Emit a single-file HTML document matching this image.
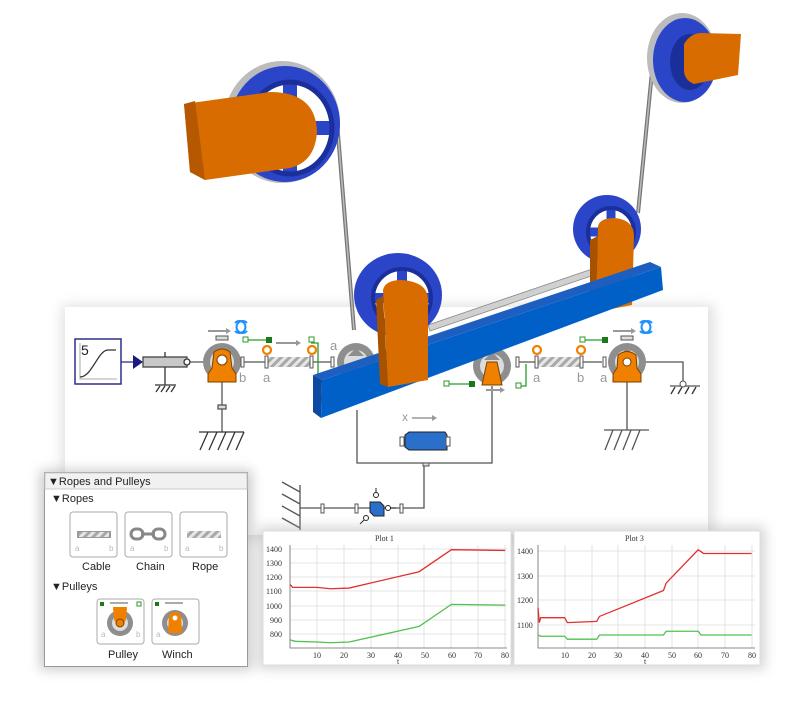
<!DOCTYPE html>
<html><head><meta charset="utf-8"><style>
html,body{margin:0;padding:0;background:#fff;}
svg{display:block;font-family:"Liberation Sans",sans-serif;}
</style></head><body>
<svg width="800" height="712" viewBox="0 0 800 712" xmlns="http://www.w3.org/2000/svg">
<defs>
<pattern id="hatch" width="6" height="6" patternUnits="userSpaceOnUse" patternTransform="rotate(45)"><rect width="6" height="6" fill="#e6e6e6"/><rect width="3" height="6" fill="#a8a8a8"/></pattern>
<filter id="sh" x="-10%" y="-10%" width="120%" height="130%"><feGaussianBlur stdDeviation="6"/></filter>
<g id="pul"><circle r="19" fill="#8e8e8e"/><circle r="12" fill="#dcdcdc"/><path d="M-8,-6 L0,-14 L8,-6 Z M-8,6 L0,14 L8,6Z" fill="#8e8e8e"/></g>
</defs>
<rect x="62" y="305" width="652" height="235" fill="#ccc" filter="url(#sh)" opacity="0.6"/>
<rect x="65" y="307" width="643" height="228" fill="#fff"/>

<g stroke="#555" stroke-width="1.3" fill="none">
<rect x="75" y="339" width="46" height="45" stroke="#2e2e8a" stroke-width="1.5" fill="#fff"/>
<path d="M80,343 V379 H117" stroke="#bbb"/>
<path d="M80,377 C92,377 98,350 108,350 H116" stroke="#333"/>
<path d="M121,362 H135" stroke="#2e2e8a"/>
<path d="M133,355 L143,362 L133,369 Z" fill="#1a1a80" stroke="none"/>
<rect x="143" y="357" width="44" height="10" fill="#c8c8c8" stroke="#444"/>
<circle cx="187" cy="362" r="3" fill="#fff" stroke="#333"/>
<path d="M165,352 V357 M165,367 V385 M155,385 H176" stroke="#333"/>
<path d="M156,392 L160,386 M161,392 L165,386 M166,392 L170,386 M171,392 L175,386" stroke="#333"/>
<path d="M190,362 H222"/>
<path d="M222,380 V432" />
<rect x="218" y="405" width="8" height="4" fill="#ddd"/>
<path d="M199,432 H244 M200,450 L208,432 M209,450 L217,432 M218,450 L226,432 M227,450 L235,432 M236,450 L244,432" stroke="#333"/>
<path d="M241,362 H267 M312,362 H332"/>
<path d="M311,343 H318 V400 H330 M353,400 H360" stroke="#2a9a2a"/>
<path d="M246,340 H268" stroke="#2a9a2a"/>
</g>
<text x="81" y="355" font-size="14" fill="#222">5</text>
<use href="#pul" x="222" y="362"/>
<path d="M212,368 L214,352 Q222,346 230,352 L232,368 L236,374 V382 H208 V374 Z" fill="#f08000" stroke="#7a4000"/>
<circle cx="222" cy="360" r="5" fill="#fff" stroke="#7a4000"/>
<rect x="216" y="336" width="12" height="4" fill="#ddd" stroke="#555"/>
<path d="M208,331 H226" stroke="#999" stroke-width="2"/><path d="M226,328 L231,331 L226,334Z" fill="#999"/>
<path d="M235,323 a6,6 0 1 1 0,8" fill="none" stroke="#1e90ff" stroke-width="2"/><path d="M247,331 a6,6 0 1 1 0,-8" fill="none" stroke="#1e90ff" stroke-width="2"/>
<rect x="241" y="357" width="3" height="10" fill="#fff" stroke="#555"/>
<rect x="243" y="337" width="5" height="5" fill="#fff" stroke="#2a9a2a"/><rect x="266" y="337" width="6" height="6" fill="#1a7a1a"/>
<path d="M276,343 H296" stroke="#999" stroke-width="2"/><path d="M296,340 L301,343 L296,346Z" fill="#999"/>
<rect x="309" y="337" width="5" height="5" fill="#fff" stroke="#2a9a2a"/>
<circle cx="267" cy="350" r="4" fill="none" stroke="#f08000" stroke-width="2.2"/>
<circle cx="312" cy="350" r="4" fill="none" stroke="#f08000" stroke-width="2.2"/>
<rect x="268" y="357" width="42" height="10" fill="url(#hatch)"/>
<rect x="265" y="356" width="3" height="12" fill="#fff" stroke="#555"/><rect x="310" y="356" width="3" height="12" fill="#fff" stroke="#555"/>
<g fill="#999" font-size="13"><text x="239" y="382">b</text><text x="263" y="382">a</text><text x="330" y="350">a</text></g>
<use href="#pul" x="356" y="362"/>
<rect x="331" y="357" width="3" height="10" fill="#fff" stroke="#555"/>

<g stroke="#555" stroke-width="1.3" fill="none">
<path d="M516,362 H537 M580,362 H602"/>
<path d="M627,362 H683 V385 M670,386 H700"/>
<path d="M671,394 L675,387 M678,394 L682,387 M685,394 L689,387 M692,394 L696,387" stroke="#333"/>
<path d="M627,380 V430 M604,430 H649 M605,450 L613,430 M614,450 L622,430 M623,450 L631,430 M632,450 L640,430" />
<path d="M492,386 V463 H357 V410 M424,463 V508 H403 M300,508 H403"/>
<path d="M300,485 V530 M282,482 L300,492 M282,494 L300,504 M282,506 L300,516 M282,518 L300,528"/>
<path d="M526,364 V386 H519 M446,384 H470" stroke="#2a9a2a"/>
<path d="M582,340 H602" stroke="#2a9a2a"/>
</g>
<rect x="423" y="463" width="6" height="3" fill="#ddd" stroke="#555"/>
<rect x="321" y="504" width="3" height="9" fill="#fff" stroke="#555"/><rect x="355" y="504" width="3" height="9" fill="#fff" stroke="#555"/><rect x="400" y="504" width="3" height="9" fill="#fff" stroke="#555"/>
<path d="M370,502 L380,502 L384,506 V516 H374 L370,512Z" fill="#2a6fc9" stroke="#222"/>
<circle cx="388" cy="508" r="2.5" fill="#fff" stroke="#222"/><circle cx="376" cy="495" r="2.5" fill="#fff" stroke="#222"/><circle cx="366" cy="518" r="2.5" fill="#fff" stroke="#222"/>
<path d="M376,488 V493 M390,508 H396 M364,520 L360,524" stroke="#222"/>
<text x="402" y="421" fill="#999" font-size="12">x</text><path d="M412,418 H432" stroke="#999" stroke-width="1.5"/><path d="M432,415 L437,418 L432,421Z" fill="#999"/>
<path d="M405,435 L409,432 H445 L447,435 V450 H409 L405,447Z" fill="#2a6fc9" stroke="#222"/>
<rect x="400" y="437" width="4" height="9" fill="#fff" stroke="#555"/><rect x="446" y="437" width="4" height="9" fill="#fff" stroke="#555"/>
<use href="#pul" x="627" y="362"/>
<path d="M617,368 L618,355 Q627,348 636,355 L637,368 L641,374 V382 H613 V374 Z" fill="#f08000" stroke="#7a4000"/>
<circle cx="627" cy="362" r="4" fill="#fff" stroke="#7a4000"/>
<rect x="621" y="336" width="12" height="4" fill="#ddd" stroke="#555"/>
<path d="M613,331 H631" stroke="#999" stroke-width="2"/><path d="M631,328 L636,331 L631,334Z" fill="#999"/>
<path d="M640,323 a6,6 0 1 1 0,8" fill="none" stroke="#1e90ff" stroke-width="2"/><path d="M652,331 a6,6 0 1 1 0,-8" fill="none" stroke="#1e90ff" stroke-width="2"/>
<circle cx="683" cy="384" r="3" fill="#fff" stroke="#555"/>
<rect x="603" y="357" width="3" height="10" fill="#fff" stroke="#555"/>
<rect x="580" y="337" width="5" height="5" fill="#fff" stroke="#2a9a2a"/><rect x="602" y="337" width="6" height="6" fill="#1a7a1a"/>
<rect x="516" y="357" width="3" height="10" fill="#fff" stroke="#555"/>
<circle cx="537" cy="350" r="4" fill="none" stroke="#f08000" stroke-width="2.2"/><circle cx="581" cy="350" r="4" fill="none" stroke="#f08000" stroke-width="2.2"/>
<rect x="538" y="357" width="42" height="10" fill="url(#hatch)"/>
<rect x="535" y="356" width="3" height="12" fill="#fff" stroke="#555"/><rect x="580" y="356" width="3" height="12" fill="#fff" stroke="#555"/>
<g fill="#999" font-size="13"><text x="533" y="382">a</text><text x="577" y="382">b</text><text x="600" y="382">a</text></g>
<use href="#pul" x="492" y="366"/>
<path d="M482,385 L487,362 H497 L502,385 Z" fill="#f08000" stroke="#7a4000"/>
<rect x="444" y="381" width="5" height="5" fill="#fff" stroke="#2a9a2a"/><rect x="469" y="381" width="6" height="6" fill="#1a7a1a"/>
<rect x="516" y="383" width="5" height="5" fill="#fff" stroke="#2a9a2a"/>
<path d="M486,390 H500" stroke="#999" stroke-width="2"/><path d="M500,387 L505,390 L500,393Z" fill="#999"/>

<!-- 3D -->
<path d="M337,122 L354,330" stroke="#777" stroke-width="4"/><path d="M337,122 L354,330" stroke="#bbb" stroke-width="1.5"/>
<path d="M652,72 L638,213" stroke="#777" stroke-width="4"/><path d="M652,72 L638,213" stroke="#bbb" stroke-width="1.5"/>
<ellipse cx="282" cy="122" rx="58" ry="61" fill="#bcbcbc"/>
<ellipse cx="285" cy="124" rx="55" ry="58" fill="#2b45c8"/>
<ellipse cx="290" cy="128" rx="42" ry="46" fill="#fff"/>
<path d="M250,128 L330,128 M290,82 L290,174" stroke="#2b45c8" stroke-width="14"/>
<ellipse cx="290" cy="128" rx="42" ry="46" fill="none" stroke="#1b2f9a" stroke-width="5"/>
<path d="M184,104 L270,92 Q316,92 317,132 Q315,162 290,168 L205,180 L190,172 Z" fill="#d96c00"/>
<path d="M184,104 L195,101 L205,180 L190,172Z" fill="#b55800"/>
<ellipse cx="682" cy="58" rx="35" ry="45" fill="#bcbcbc"/>
<ellipse cx="685" cy="60" rx="32" ry="42" fill="#2b45c8"/>
<ellipse cx="690" cy="62" rx="20" ry="28" fill="#1b2f9a"/>
<path d="M684,44 Q690,34 700,33 L741,34 L738,75 L694,84 Q684,80 684,70Z" fill="#d96c00"/>
<ellipse cx="607" cy="229" rx="34" ry="34" fill="#2b45c8"/>
<ellipse cx="611" cy="232" rx="23" ry="24" fill="#fff"/>
<path d="M588,232 L634,232 M611,208 L611,256" stroke="#2b45c8" stroke-width="9"/>
<ellipse cx="611" cy="232" rx="23" ry="24" fill="none" stroke="#1b2f9a" stroke-width="4"/>
<path d="M428,325 L595,268 L597,274 L430,331Z" fill="#d0d0d0" stroke="#888" stroke-width="0.8"/>
<path d="M598,226 Q600,218 615,218 Q634,220 634,236 L632,305 L596,312 Z" fill="#d96c00"/>
<path d="M590,240 L598,236 L596,312 L590,310Z" fill="#a85200"/>
<ellipse cx="398" cy="295" rx="44" ry="42" fill="#2b45c8"/>
<ellipse cx="402" cy="298" rx="29" ry="29" fill="#fff"/>
<path d="M372,298 L432,298 M402,268 L402,328" stroke="#2b45c8" stroke-width="10"/>
<ellipse cx="402" cy="298" rx="29" ry="29" fill="none" stroke="#1b2f9a" stroke-width="4"/>
<path d="M313,375 L650,262 L661,267 L322,380Z" fill="#1d5fc0"/>
<path d="M313,375 L322,380 L321,418 L313,412Z" fill="#0b4aa0"/>
<path d="M322,380 L661,267 L663,290 L321,418Z" fill="#0060c8"/>
<path d="M383,290 Q385,280 402,280 Q428,282 428,300 L428,380 L388,387 Z" fill="#d96c00"/>
<path d="M376,300 L383,296 L388,387 L380,384Z" fill="#a85200"/>

<!-- Library panel -->
<rect x="40" y="470" width="212" height="200" fill="#999" filter="url(#sh)" opacity="0.5"/>
<rect x="44.5" y="472.5" width="203" height="194" fill="#fff" stroke="#999"/>
<rect x="45" y="473" width="202" height="16" fill="#f1f1f1" stroke="#ccc"/>
<g font-size="11" fill="#222">
<text x="48" y="485">▼Ropes and Pulleys</text>
<text x="51" y="502">▼Ropes</text>
<text x="51" y="590">▼Pulleys</text>
<text x="82" y="570" font-size="11">Cable</text>
<text x="136" y="570">Chain</text>
<text x="192" y="570">Rope</text>
<text x="108" y="658">Pulley</text>
<text x="162" y="658">Winch</text>
</g>
<g fill="#fff" stroke="#aaa">
<rect x="70" y="512" width="47" height="45" rx="3"/><rect x="125" y="512" width="47" height="45" rx="3"/><rect x="180" y="512" width="47" height="45" rx="3"/>
<rect x="97" y="599" width="47" height="45" rx="3"/><rect x="152" y="599" width="47" height="45" rx="3"/>
</g>
<rect x="77" y="531" width="34" height="7" fill="#999"/><rect x="79" y="532" width="30" height="5" fill="url(#hatch)"/>
<rect x="187" y="531" width="34" height="7" fill="url(#hatch)"/>
<g fill="none" stroke="#888" stroke-width="3"><rect x="131" y="529" width="12" height="10" rx="5"/><rect x="153" y="529" width="12" height="10" rx="5"/><path d="M141,534 H155"/></g>
<g fill="#bbb" font-size="8"><text x="75" y="551">a</text><text x="109" y="551">b</text><text x="130" y="551">a</text><text x="164" y="551">b</text><text x="185" y="551">a</text><text x="219" y="551">b</text><text x="101" y="637">a</text><text x="136" y="637">b</text><text x="156" y="637">a</text></g>
<circle cx="120" cy="623" r="13" fill="#8e8e8e"/><circle cx="120" cy="623" r="8" fill="#ddd"/>
<path d="M113,607 H127 L126,620 Q120,628 114,620Z" fill="#f08000"/><circle cx="120" cy="623" r="4" fill="#f08000" stroke="#7a4000"/>
<circle cx="175" cy="623" r="13" fill="#8e8e8e"/><circle cx="175" cy="623" r="8" fill="#ddd"/>
<path d="M169,615 Q175,609 181,615 L182,633 H168Z" fill="#f08000"/><circle cx="175" cy="618" r="2.5" fill="#fff"/>
<rect x="100" y="602" width="4" height="4" fill="#1a7a1a"/><rect x="137" y="602" width="4" height="4" fill="none" stroke="#2a9a2a"/><rect x="155" y="602" width="4" height="4" fill="#1a7a1a"/>
<path d="M110,603 H128 M165,603 H183" stroke="#555"/>

<!-- Plots -->
<rect x="258" y="527" width="507" height="142" fill="#aaa" filter="url(#sh)" opacity="0.5"/>
<rect x="263" y="531" width="248" height="134" fill="#fff" stroke="#ddd"/>
<rect x="514" y="531" width="246" height="134" fill="#fff" stroke="#ddd"/>
<g font-family="Liberation Serif,serif" font-size="8" fill="#333">
<text x="375" y="541">Plot 1</text><text x="625" y="541">Plot 3</text>
<text x="266" y="552">1400</text><text x="266" y="566">1300</text><text x="266" y="580">1200</text><text x="266" y="594">1100</text><text x="266" y="609">1000</text><text x="270" y="623">900</text><text x="270" y="637">800</text>
<text x="517" y="554">1400</text><text x="517" y="579">1300</text><text x="517" y="603">1200</text><text x="517" y="628">1100</text>
<text x="313" y="658">10</text><text x="340" y="658">20</text><text x="367" y="658">30</text><text x="394" y="658">40</text><text x="421" y="658">50</text><text x="448" y="658">60</text><text x="474" y="658">70</text><text x="501" y="658">80</text>
<text x="561" y="658">10</text><text x="588" y="658">20</text><text x="614" y="658">30</text><text x="641" y="658">40</text><text x="668" y="658">50</text><text x="694" y="658">60</text><text x="721" y="658">70</text><text x="748" y="658">80</text>
<text x="397" y="664">t</text><text x="644" y="664">t</text>
</g>
<g stroke="#ddd" stroke-width="0.8">
<path d="M317,545 V648 M344,545 V648 M371,545 V648 M398,545 V648 M424,545 V648 M451,545 V648 M478,545 V648 M505,545 V648 M290,549 H507 M290,563 H507 M290,577 H507 M290,591 H507 M290,606 H507 M290,620 H507 M290,634 H507"/>
<path d="M565,545 V648 M592,545 V648 M618,545 V648 M645,545 V648 M672,545 V648 M698,545 V648 M725,545 V648 M752,545 V648 M538,551 H755 M538,576 H755 M538,600 H755 M538,625 H755"/>
</g>
<path d="M290,545 V648 H507 M538,545 V648 H755" stroke="#666" fill="none" stroke-width="0.8"/>
<g transform="matrix(2.69 0 0 -0.142 290 747.8)" fill="none" stroke-width="1.3">
<polyline vector-effect="non-scaling-stroke" stroke="#e03030" points="0,1150 1,1130 10,1130 15,1120 22,1125 48,1240 60,1395 80,1390"/>
<polyline vector-effect="non-scaling-stroke" stroke="#50c050" points="0,760 2,750 10,745 15,740 22,745 48,855 60,1010 80,1005"/>
</g>
<g transform="matrix(2.67 0 0 -0.247 538 896.8)" fill="none" stroke-width="1.3">
<polyline vector-effect="non-scaling-stroke" stroke="#e03030" points="0,1170 0.5,1110 1,1130 10,1130 11,1110 22,1115 23,1135 47,1240 48,1270 60,1405 62,1390 80,1390"/>
<polyline vector-effect="non-scaling-stroke" stroke="#50c050" points="0,1060 1,1055 10,1055 11,1043 22,1043 23,1060 47,1060 48,1075 60,1075 61,1060 80,1060"/>
</g>
</svg>
</body></html>
